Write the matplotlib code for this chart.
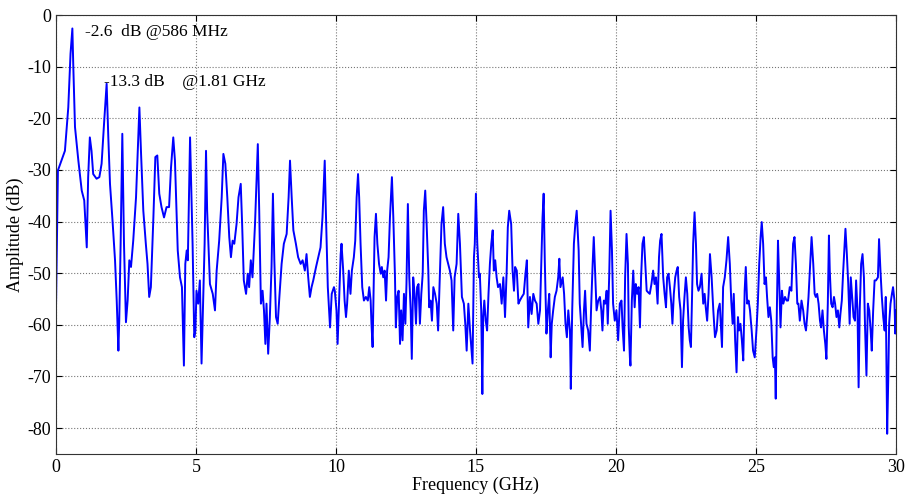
import matplotlib
matplotlib.use("Agg")
import matplotlib.pyplot as plt

# spectrum (GHz, dB), one list per 5 GHz stretch
freq_0_5 = [0.0, 0.07, 0.32, 0.44, 0.52, 0.586, 0.62, 0.68, 0.80, 0.92, 1.01, 1.10, 1.15, 1.21,
            1.27, 1.33, 1.45, 1.55, 1.63, 1.71, 1.81, 1.87, 1.93, 2.02, 2.11, 2.17, 2.23, 2.26,
            2.31, 2.37, 2.43, 2.50, 2.56, 2.62, 2.68, 2.76, 2.86, 2.93, 2.98, 3.04, 3.12, 3.21,
            3.27, 3.33, 3.39, 3.48, 3.55, 3.62, 3.69, 3.77, 3.86, 3.95, 4.04, 4.11, 4.19, 4.25,
            4.35, 4.43, 4.50, 4.57, 4.62, 4.67, 4.71, 4.79, 4.88, 4.94]
amp_0_5 = [-57.2, -30.1, -26.3, -17.9, -7.5, -2.6, -10.1, -21.7, -28.2, -34.0, -35.9, -45.0, -31.4, -23.7,
           -26.3, -30.8, -31.7, -31.4, -28.8, -21.7, -13.3, -23.7, -32.7, -39.8, -47.5, -55.3, -65.0, -59.2,
           -44.3, -23.0, -44.3, -59.5, -55.3, -47.5, -48.8, -43.7, -35.3, -25.0, -17.9, -26.9, -37.9, -44.3,
           -48.2, -54.6, -52.7, -39.2, -27.5, -27.2, -34.6, -37.2, -39.2, -37.2, -37.2, -29.5, -23.7, -28.2,
           -45.6, -50.8, -52.7, -67.9, -48.2, -45.6, -47.5, -23.7, -44.3, -62.4]

freq_5_10 = [4.98, 5.02, 5.08, 5.14, 5.20, 5.26, 5.31, 5.36, 5.40, 5.50, 5.60, 5.68, 5.74, 5.83,
             5.92, 5.98, 6.05, 6.12, 6.19, 6.25, 6.31, 6.37, 6.45, 6.52, 6.60, 6.65, 6.71, 6.79,
             6.85, 6.90, 6.96, 7.02, 7.11, 7.17, 7.21, 7.26, 7.32, 7.38, 7.43, 7.48, 7.52, 7.58,
             7.64, 7.70, 7.75, 7.80, 7.86, 7.92, 7.98, 8.06, 8.14, 8.24, 8.31, 8.36, 8.42, 8.48,
             8.57, 8.65, 8.74, 8.81, 8.89, 8.95, 9.01, 9.07, 9.13, 9.19, 9.29, 9.37, 9.45, 9.52,
             9.60, 9.64, 9.71, 9.79, 9.85, 9.93]
amp_5_10 = [-61.1, -53.4, -55.9, -51.4, -67.5, -54.6, -44.3, -26.3, -37.9, -52.1, -54.0, -57.2, -49.5, -43.7,
            -35.3, -26.9, -28.8, -35.3, -43.0, -46.9, -43.7, -44.3, -40.5, -35.3, -32.7, -40.5, -51.4, -54.0,
            -50.1, -52.7, -47.5, -50.8, -40.5, -31.4, -25.0, -37.9, -55.9, -53.4, -57.2, -63.7, -55.9, -65.6,
            -58.5, -48.8, -34.6, -47.5, -58.5, -59.8, -54.6, -48.2, -44.3, -42.4, -35.3, -28.2, -35.3, -41.7,
            -44.3, -46.9, -48.2, -47.5, -49.5, -46.3, -50.8, -54.6, -52.7, -51.4, -48.8, -46.9, -45.0, -39.2,
            -28.2, -37.9, -52.7, -60.5, -54.0, -52.7]

freq_10_15 = [9.96, 10.02, 10.06, 10.11, 10.17, 10.20, 10.26, 10.31, 10.36, 10.40, 10.46, 10.52, 10.57,
              10.64, 10.69, 10.74, 10.79, 10.83, 10.88, 10.94, 11.00, 11.07, 11.14, 11.19, 11.24, 11.27,
              11.31, 11.35, 11.38, 11.43, 11.48, 11.54, 11.60, 11.64, 11.69, 11.74, 11.79, 11.83, 11.88,
              11.93, 12.00, 12.05, 12.11, 12.14, 12.19, 12.24, 12.29, 12.33, 12.38, 12.43, 12.48, 12.52,
              12.57, 12.62, 12.67, 12.71, 12.76, 12.81, 12.86, 12.90, 12.95, 13.00, 13.05, 13.10, 13.14,
              13.19, 13.24, 13.30, 13.33, 13.38, 13.43, 13.48, 13.54, 13.60, 13.65, 13.71, 13.77, 13.83,
              13.89, 13.95, 14.01, 14.07, 14.13, 14.19, 14.24, 14.31, 14.37, 14.43, 14.50, 14.57, 14.62,
              14.67, 14.73, 14.79, 14.88, 14.93]
amp_10_15 = [-53.4, -57.2, -63.7, -55.9, -46.3, -44.3, -49.5, -55.3, -58.5, -55.9, -49.5, -54.0, -49.5,
             -46.9, -43.7, -35.3, -30.8, -35.3, -44.3, -52.7, -55.3, -54.6, -55.3, -52.7, -55.3, -59.8,
             -64.3, -52.1, -43.0, -38.5, -44.3, -48.2, -50.1, -48.8, -50.8, -49.5, -55.3, -49.5, -46.9,
             -39.2, -31.4, -39.2, -50.8, -60.5, -54.6, -53.4, -63.7, -57.2, -63.0, -54.0, -59.8, -52.1,
             -36.6, -50.8, -57.2, -66.6, -50.8, -54.0, -59.8, -52.7, -52.1, -59.8, -54.0, -50.1, -37.9,
             -34.0, -40.5, -49.5, -56.6, -55.3, -59.2, -52.7, -54.0, -55.9, -61.1, -50.8, -40.5, -37.2,
             -44.3, -46.9, -48.2, -49.5, -51.4, -61.1, -50.8, -48.2, -38.5, -44.3, -54.6, -55.9, -59.8,
             -65.0, -55.9, -61.1, -67.5, -46.9]

freq_15_20 = [14.96, 15.00, 15.05, 15.11, 15.14, 15.19, 15.23, 15.26, 15.30, 15.35, 15.40, 15.45, 15.50,
              15.55, 15.60, 15.64, 15.69, 15.74, 15.79, 15.86, 15.92, 15.98, 16.04, 16.10, 16.14, 16.19,
              16.26, 16.31, 16.36, 16.40, 16.46, 16.52, 16.57, 16.64, 16.71, 16.77, 16.82, 16.87, 16.93,
              16.99, 17.05, 17.11, 17.17, 17.23, 17.29, 17.33, 17.38, 17.42, 17.46, 17.52, 17.57, 17.62,
              17.67, 17.71, 17.76, 17.82, 17.88, 17.94, 17.98, 18.02, 18.10, 18.15, 18.20, 18.25, 18.30,
              18.36, 18.39, 18.44, 18.50, 18.55, 18.60, 18.67, 18.71, 18.77, 18.81, 18.86, 18.90, 18.95,
              19.01, 19.07, 19.12, 19.17, 19.21, 19.26, 19.31, 19.37, 19.43, 19.48, 19.52, 19.57, 19.62,
              19.67, 19.71, 19.76, 19.81, 19.86, 19.90]
amp_15_20 = [-44.3, -34.6, -44.3, -50.8, -50.1, -57.2, -73.4, -58.5, -55.3, -59.2, -61.1, -54.0, -48.2,
             -44.3, -41.7, -49.5, -47.5, -50.8, -52.7, -52.1, -55.9, -50.8, -58.5, -49.5, -41.1, -37.9,
             -40.5, -49.5, -53.4, -48.8, -49.5, -55.9, -55.3, -54.6, -54.0, -50.1, -47.5, -60.5, -54.6,
             -57.9, -54.0, -55.3, -55.9, -59.8, -57.2, -49.5, -39.2, -34.6, -47.5, -61.7, -57.2, -54.0,
             -66.3, -59.8, -57.2, -54.6, -53.4, -50.8, -47.2, -52.7, -50.8, -54.0, -59.8, -62.4, -57.2,
             -61.1, -72.4, -57.2, -44.3, -40.5, -37.9, -45.6, -55.9, -61.1, -64.3, -57.2, -53.4, -59.8,
             -61.1, -65.0, -55.9, -48.2, -43.0, -50.1, -57.2, -55.3, -54.6, -57.2, -61.1, -55.3, -55.9,
             -53.4, -59.8, -50.8, -37.9, -45.6, -55.9]

freq_20_25 = [19.96, 20.02, 20.08, 20.14, 20.20, 20.24, 20.29, 20.33, 20.38, 20.43, 20.46, 20.50, 20.52,
              20.57, 20.62, 20.67, 20.71, 20.76, 20.81, 20.86, 20.90, 20.95, 21.00, 21.05, 21.10, 21.15,
              21.21, 21.27, 21.33, 21.38, 21.43, 21.49, 21.54, 21.58, 21.63, 21.69, 21.74, 21.79, 21.83,
              21.88, 21.93, 21.98, 22.02, 22.07, 22.12, 22.17, 22.21, 22.26, 22.31, 22.36, 22.40, 22.45,
              22.50, 22.55, 22.60, 22.64, 22.68, 22.71, 22.76, 22.81, 22.86, 22.90, 22.95, 23.00, 23.06,
              23.12, 23.17, 23.21, 23.26, 23.31, 23.36, 23.42, 23.48, 23.54, 23.60, 23.65, 23.71, 23.79,
              23.83, 23.89, 23.95, 24.01, 24.07, 24.12, 24.17, 24.21, 24.26, 24.31, 24.36, 24.40, 24.45,
              24.50, 24.55, 24.60, 24.64, 24.69, 24.74, 24.79, 24.85, 24.90]
amp_20_25 = [-59.2, -57.2, -63.0, -55.9, -55.3, -60.5, -65.0, -50.8, -42.4, -48.2, -60.5, -66.3, -67.9,
             -55.3, -49.5, -56.6, -52.1, -54.0, -52.7, -60.5, -50.8, -44.3, -43.0, -48.2, -53.4, -53.7,
             -54.0, -52.1, -49.5, -52.1, -50.8, -55.9, -46.9, -43.7, -42.4, -50.8, -54.0, -56.6, -50.8,
             -50.1, -52.7, -55.9, -59.8, -54.0, -50.8, -49.5, -48.8, -54.6, -57.2, -68.2, -59.2, -54.6,
             -50.8, -54.0, -60.5, -63.0, -64.3, -57.2, -44.3, -38.2, -44.3, -52.1, -53.4, -52.7, -50.1,
             -55.9, -54.0, -56.6, -59.2, -54.0, -46.3, -50.8, -57.2, -62.4, -61.1, -57.2, -55.9, -64.3,
             -52.7, -50.8, -47.5, -43.0, -48.2, -55.3, -59.8, -54.0, -63.0, -69.2, -58.5, -61.1, -59.8,
             -63.0, -66.9, -53.4, -48.8, -55.9, -55.3, -57.2, -61.1, -65.0]

freq_25_30 = [24.96, 25.02, 25.07, 25.12, 25.17, 25.21, 25.26, 25.31, 25.36, 25.40, 25.45, 25.50, 25.55,
              25.60, 25.64, 25.68, 25.71, 25.75, 25.79, 25.83, 25.88, 25.93, 25.98, 26.04, 26.10, 26.15,
              26.21, 26.27, 26.33, 26.38, 26.43, 26.48, 26.52, 26.57, 26.63, 26.69, 26.74, 26.79, 26.83,
              26.88, 26.93, 26.99, 27.05, 27.10, 27.14, 27.19, 27.24, 27.29, 27.33, 27.38, 27.43, 27.48,
              27.52, 27.57, 27.61, 27.64, 27.69, 27.74, 27.79, 27.83, 27.88, 27.93, 27.98, 28.02, 28.07,
              28.12, 28.17, 28.20, 28.25, 28.30, 28.35, 28.39, 28.44, 28.49, 28.54, 28.58, 28.63, 28.67,
              28.71, 28.76, 28.81, 28.86, 28.90, 28.95, 29.00, 29.05, 29.10, 29.14, 29.19, 29.24, 29.29,
              29.36, 29.40, 29.45, 29.50, 29.55, 29.60, 29.64, 29.69, 29.73, 29.76, 29.81, 29.86, 29.90,
              29.95, 29.98, 30.00]
amp_25_30 = [-66.3, -61.1, -55.9, -48.2, -43.0, -40.1, -44.3, -52.1, -50.8, -54.6, -58.5, -56.6, -59.2,
             -66.3, -68.2, -66.3, -74.3, -57.2, -43.7, -50.8, -60.5, -53.4, -55.9, -54.6, -55.3, -55.3,
             -52.7, -53.4, -44.3, -43.0, -48.2, -55.9, -55.9, -59.2, -55.3, -57.2, -59.8, -61.1, -58.5,
             -54.6, -49.5, -43.0, -48.2, -54.0, -54.6, -54.0, -55.9, -59.2, -60.5, -57.2, -61.1, -63.7,
             -66.6, -55.9, -42.7, -49.5, -55.9, -56.6, -54.6, -55.9, -58.5, -57.2, -60.5, -57.9, -55.3,
             -49.5, -44.3, -41.4, -46.3, -52.1, -59.8, -50.8, -54.6, -58.5, -59.2, -51.4, -57.2, -72.1,
             -57.2, -48.2, -46.3, -50.8, -60.5, -69.8, -55.9, -57.2, -61.1, -65.0, -57.2, -51.4, -51.4,
             -50.8, -43.4, -49.5, -54.6, -58.5, -61.1, -54.6, -81.1, -70.1, -59.8, -55.9, -54.0, -52.7,
             -55.3, -61.7, -57.2]

freq = freq_0_5 + freq_5_10 + freq_10_15 + freq_15_20 + freq_20_25 + freq_25_30
amp = amp_0_5 + amp_5_10 + amp_10_15 + amp_15_20 + amp_20_25 + amp_25_30

plt.rcParams['font.family'] = ['Liberation Serif', 'DejaVu Serif']
plt.rcParams['axes.unicode_minus'] = False

fig = plt.figure(figsize=(9.07, 5.01), dpi=100)
ax = fig.add_axes([0.0617, 0.094, 0.926, 0.876])

ax.plot(freq, amp, color='#0000ff', linewidth=1.4)

ax.set_xlim(0, 30)
ax.set_ylim(-85, 0)
ax.set_xticks(range(0, 31, 5))
ax.set_yticks(range(-80, 1, 10))
ax.grid(True, linestyle=':', color='#777777', linewidth=0.8)
ax.tick_params(direction='in', top=True, right=True, labelsize=13, length=4)
for s in ax.spines.values():
    s.set_color('#333333')

ax.set_xlabel('Frequency (GHz)', fontsize=13, labelpad=1)
ax.set_ylabel('Amplitude (dB)', fontsize=13)
ax.yaxis.set_label_coords(-0.038, 0.5)

ax.text(1.05, -3.3, '-2.6  dB @586 MHz', fontsize=12.5, va='center')
ax.text(1.72, -13.0, '-13.3 dB    @1.81 GHz', fontsize=12.5, va='center')

fig.savefig('out.png', dpi=100)
